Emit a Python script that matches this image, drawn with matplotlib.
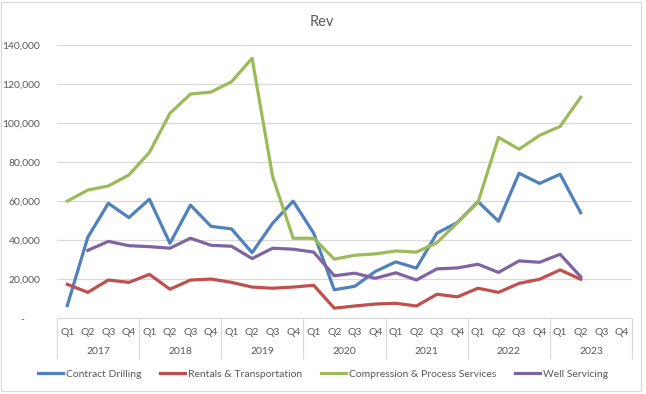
import matplotlib.pyplot as plt
import numpy as np
from matplotlib.patches import Rectangle
from matplotlib.ticker import FuncFormatter

plt.rcParams['font.family'] = ['Lato', 'DejaVu Sans']

years = ['2017', '2018', '2019', '2020', '2021', '2022', '2023']
quarters = ['Q1', 'Q2', 'Q3', 'Q4']

# quarterly revenue, Q1 2017 .. Q2 2023
contract_drilling = [6500, 41500, 58900, 51600, 61000, 38400, 58000, 47100, 45800, 33600,
                     48700, 60000, 43600, 14600, 16400, 24000, 28900, 25700, 43600, 49100,
                     59800, 49700, 74300, 69100, 73800, 54100]
rentals = [17400, 13300, 19600, 18400, 22500, 14900, 19600, 20100, 18400, 16000,
           15400, 16000, 16900, 5200, 6300, 7300, 7700, 6300, 12300, 11000,
           15400, 13300, 17900, 20000, 24800, 20000]
compression = [60000, 65700, 67800, 73400, 85000, 105000, 114900, 115900, 121200, 133200,
               72600, 41000, 41000, 30300, 32300, 33000, 34500, 33900, 38700, 49000,
               59400, 92700, 86600, 93700, 98300, 113200]
well_servicing = [np.nan, 34800, 39400, 37200, 36700, 35900, 41000, 37400, 36900, 30600,
                  35900, 35400, 33900, 21800, 23100, 20500, 23300, 19600, 25300, 25800,
                  27700, 23500, 29400, 28700, 32800, 21300]

series = [
    ('Contract Drilling', contract_drilling, '#4F81BD'),
    ('Rentals & Transportation', rentals, '#C0504D'),
    ('Compression & Process Services', compression, '#9BBB59'),
    ('Well Servicing', well_servicing, '#8064A2'),
]

grey = '#595959'
light = '#D9D9D9'
n_cat = len(years) * len(quarters)

fig = plt.figure(figsize=(6.46, 3.94), dpi=100)
ax = fig.add_axes([57 / 646, 1 - 318.3 / 394, 575 / 646, 273.3 / 394])

x = np.arange(len(contract_drilling))
for name, vals, col in series:
    ax.plot(x, vals, color=col, lw=2.3, label=name, solid_joinstyle='round')

ax.set_xlim(-0.5, n_cat - 0.5)
ax.set_ylim(0, 140000)
ax.set_yticks(np.arange(0, 140001, 20000))
ax.yaxis.set_major_formatter(FuncFormatter(lambda v, p: '-      ' if v == 0 else f'{v:,.0f}'))
ax.grid(axis='y', color=light, lw=0.9)
ax.set_axisbelow(True)
for s in ['top', 'right', 'left']:
    ax.spines[s].set_visible(False)
ax.spines['bottom'].set_color(light)
ax.tick_params(axis='y', length=0, pad=12, labelsize=7.5, labelcolor=grey)

# two-level category axis
ax.set_xticks(np.arange(n_cat))
ax.set_xticklabels(quarters * len(years))
ax.tick_params(axis='x', length=0, pad=7, labelsize=7.5, labelcolor=grey)
tr = ax.get_xaxis_transform()
ax.vlines(np.arange(0, n_cat + 1, 4) - 0.5, -0.15, 0, transform=tr,
          color=light, lw=0.9, clip_on=False)
for k, yr in enumerate(years):
    ax.text(4 * k + 1.5, -0.122, yr, transform=tr, ha='center', va='center',
            fontsize=7.5, color=grey)

fig.text(0.498, 1 - 22.5 / 394, 'Rev', ha='center', va='center', fontsize=10.5, color=grey)
fig.legend(loc='center', bbox_to_anchor=(0.5, 1 - 374 / 394), ncol=4, frameon=False,
           fontsize=7.5, labelcolor=grey, handlelength=2.4, columnspacing=1.8,
           handletextpad=0.3)

fig.patches.append(Rectangle((1 / 646, 3 / 394), 640 / 646, 389 / 394,
                             transform=fig.transFigure, fill=False, ec=light, lw=0.9))

fig.savefig('out.png', dpi=100)
